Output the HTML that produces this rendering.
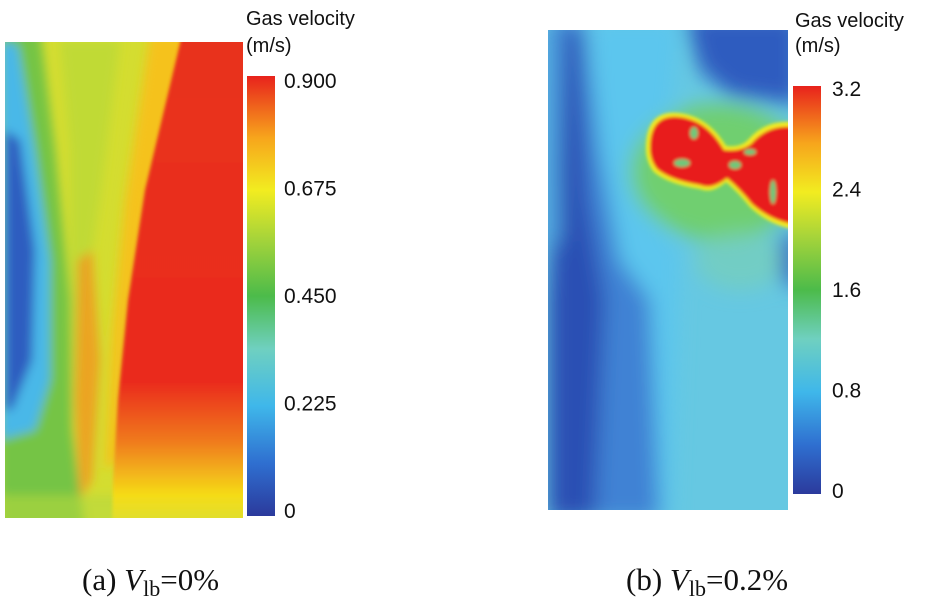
<!DOCTYPE html>
<html><head><meta charset="utf-8">
<style>
html,body{margin:0;padding:0;background:#fff;}
svg{display:block;}
text{font-family:"Liberation Sans",Arial,sans-serif;}
.cap{font-family:"Liberation Serif","Times New Roman",serif;font-size:31px;fill:#111;}
</style></head>
<body>
<svg id="chart" width="950" height="606" viewBox="0 0 950 606">
<defs>
  <linearGradient id="jet" x1="0" y1="1" x2="0" y2="0">
    <stop offset="0" stop-color="#2b3a9c"/>
    <stop offset="0.12" stop-color="#2f6fd0"/>
    <stop offset="0.25" stop-color="#3fb7ea"/>
    <stop offset="0.38" stop-color="#6fd0c0"/>
    <stop offset="0.5" stop-color="#4cbb4a"/>
    <stop offset="0.63" stop-color="#a6d43a"/>
    <stop offset="0.74" stop-color="#f2ec20"/>
    <stop offset="0.86" stop-color="#f7a51c"/>
    <stop offset="1" stop-color="#e8221c"/>
  </linearGradient>
  <linearGradient id="aRed" x1="0" y1="0" x2="0" y2="1">
    <stop offset="0" stop-color="#e8331c"/>
    <stop offset="0.7" stop-color="#ea2a1e"/>
    <stop offset="0.82" stop-color="#f07a1e"/>
    <stop offset="0.93" stop-color="#f5dc18"/>
    <stop offset="1" stop-color="#d6e038"/>
  </linearGradient>
  <filter id="blur4" filterUnits="userSpaceOnUse" x="-100" y="-100" width="1200" height="800"><feGaussianBlur stdDeviation="5"/></filter>
  <filter id="blur8" filterUnits="userSpaceOnUse" x="-100" y="-100" width="1200" height="800"><feGaussianBlur stdDeviation="10"/></filter>
  <filter id="blur2" filterUnits="userSpaceOnUse" x="-100" y="-100" width="1200" height="800"><feGaussianBlur stdDeviation="1.5"/></filter>
  <clipPath id="clipA"><rect x="5" y="42" width="238" height="476"/></clipPath>
  <clipPath id="clipB"><rect x="548" y="30" width="240" height="480"/></clipPath>
</defs>

<!-- Panel a -->
<g clip-path="url(#clipA)">
  <rect x="5" y="42" width="238" height="476" fill="#d4dd30"/>
  <g filter="url(#blur4)">
    <path d="M0,30 L40,30 L55,150 L70,300 L72,430 L85,530 L0,530 Z" fill="#74c444"/>
    <path d="M0,40 L18,45 L35,150 L50,260 L50,380 L35,430 L0,440 Z" fill="#4ab8e8"/>
    <path d="M5,130 L20,140 L35,250 L32,360 L12,410 L5,410 Z" fill="#2f5dc0"/>
    <path d="M60,40 L120,40 L100,200 L85,300 L75,420 L70,300 L70,150 Z" fill="#b8d838" opacity="0.7"/>
    <path d="M78,260 L92,250 L100,360 L92,480 L80,500 L75,400 Z" fill="#f09a20" opacity="0.85"/>
    <path d="M150,35 L195,35 L150,200 L128,330 L118,460 L105,470 L112,330 L125,200 Z" fill="#f5c21c"/>
    <path d="M0,495 L243,495 L243,530 L0,530 Z" fill="#b6d840" opacity="0.6"/>
  </g>
  <g filter="url(#blur2)">
    <path d="M182,35 L250,35 L250,530 L112,530 L113,480 L118,400 L128,300 L145,190 Z" fill="url(#aRed)"/>
  </g>
</g>
<g id="cbA">
  <rect x="247" y="76" width="28" height="440" fill="url(#jet)"/>
</g>
<text x="246" y="25" font-size="20" fill="#111">Gas velocity</text>
<text x="246" y="52" font-size="20" fill="#111">(m/s)</text>

<!-- Panel b -->
<g clip-path="url(#clipB)">
  <rect x="548" y="30" width="240" height="480" fill="#66c8e2"/>
  <g filter="url(#blur8)">
    <path d="M590,20 L680,20 L670,120 L640,200 L680,250 L670,520 L600,520 L600,300 Z" fill="#5cc6ee"/>
    <path d="M565,20 L585,20 L600,150 L620,260 L650,300 L660,520 L548,520 L548,20 Z" fill="#3f82d4"/>
    <path d="M565,30 L578,30 L588,200 L605,300 L595,520 L548,520 L548,300 L558,200 Z" fill="#2c4fb4"/>
    <path d="M540,30 L558,30 L560,240 L540,250 Z" fill="#4fa4e0"/>
    <path d="M685,15 L800,15 L800,105 L765,100 L730,95 L700,70 Z" fill="#2f5cbf"/>
    <ellipse cx="718" cy="172" rx="88" ry="68" fill="#6fcf70"/>
    <ellipse cx="740" cy="260" rx="45" ry="30" fill="#7cd0b0" opacity="0.6"/>
    <path d="M782,235 L800,235 L800,290 L782,280 Z" fill="#2f5cbf"/>
  </g>
  <g filter="url(#blur2)">
    <path d="M646,148 Q646,110 678,113 Q708,116 726,146 Q740,148 748,140 Q765,120 792,122 L792,229 Q768,224 750,207 Q738,192 726,182 Q712,194 700,189 Q668,184 654,172 Q646,162 646,148 Z" fill="#f2ec20"/>
    <path d="M650,148 Q650,114 679,117 Q707,120 724,150 Q740,152 751,144 Q767,125 792,127 L792,224 Q770,220 752,204 Q740,189 727,178 Q712,190 700,185 Q670,180 657,169 Q650,160 650,148 Z" fill="#e81c1c"/>
    <ellipse cx="694" cy="133" rx="4" ry="6" fill="#6fc87a"/>
    <ellipse cx="682" cy="163" rx="8" ry="4" fill="#6fc87a"/>
    <ellipse cx="735" cy="165" rx="6" ry="4" fill="#6fc87a"/>
    <ellipse cx="750" cy="152" rx="6" ry="3" fill="#6fc87a"/>
    <ellipse cx="773" cy="192" rx="3" ry="12" fill="#6fc87a"/>
  </g>
</g>
<g id="cbB">
  <rect x="793" y="86" width="28" height="408" fill="url(#jet)"/>
</g>
<text x="795" y="27" font-size="20" fill="#111">Gas velocity</text>
<text x="795" y="52" font-size="20" fill="#111">(m/s)</text>

<text class="cap" x="82" y="590">(a) <tspan font-style="italic">V</tspan><tspan font-size="22" dy="6">lb</tspan><tspan dy="-6">=0%</tspan></text>
<text class="cap" x="626" y="590">(b) <tspan font-style="italic">V</tspan><tspan font-size="22" dy="6">lb</tspan><tspan dy="-6">=0.2%</tspan></text>
</svg>
<script>
const ticksA = [0, 0.225, 0.45, 0.675, 0.9];
const tickLabelsA = ["0", "0.225", "0.450", "0.675", "0.900"];
const ticksB = [0, 0.8, 1.6, 2.4, 3.2];
const tickLabelsB = ["0", "0.8", "1.6", "2.4", "3.2"];
const svg = document.getElementById('chart');
function scale(v, min, max, y0, y1){ return y0 + (v - min) / (max - min) * (y1 - y0); }
function drawTicks(vals, labels, x, y0, y1, name){
  const max = vals[vals.length-1];
  vals.forEach((v,i)=>{
    const t = document.createElementNS('http://www.w3.org/2000/svg','text');
    t.setAttribute('x', x);
    t.setAttribute('y', scale(v, 0, max, y0, y1) + 8);
    t.setAttribute('font-size', '21');
    t.setAttribute('fill', '#111');
    t.textContent = labels[i];
    
    
    svg.appendChild(t);
  });
}
drawTicks(ticksA, tickLabelsA, 284, 510, 80, 'colorbar-a-tick');
drawTicks(ticksB, tickLabelsB, 832, 490, 88, 'colorbar-b-tick');
</script>
</body></html>
